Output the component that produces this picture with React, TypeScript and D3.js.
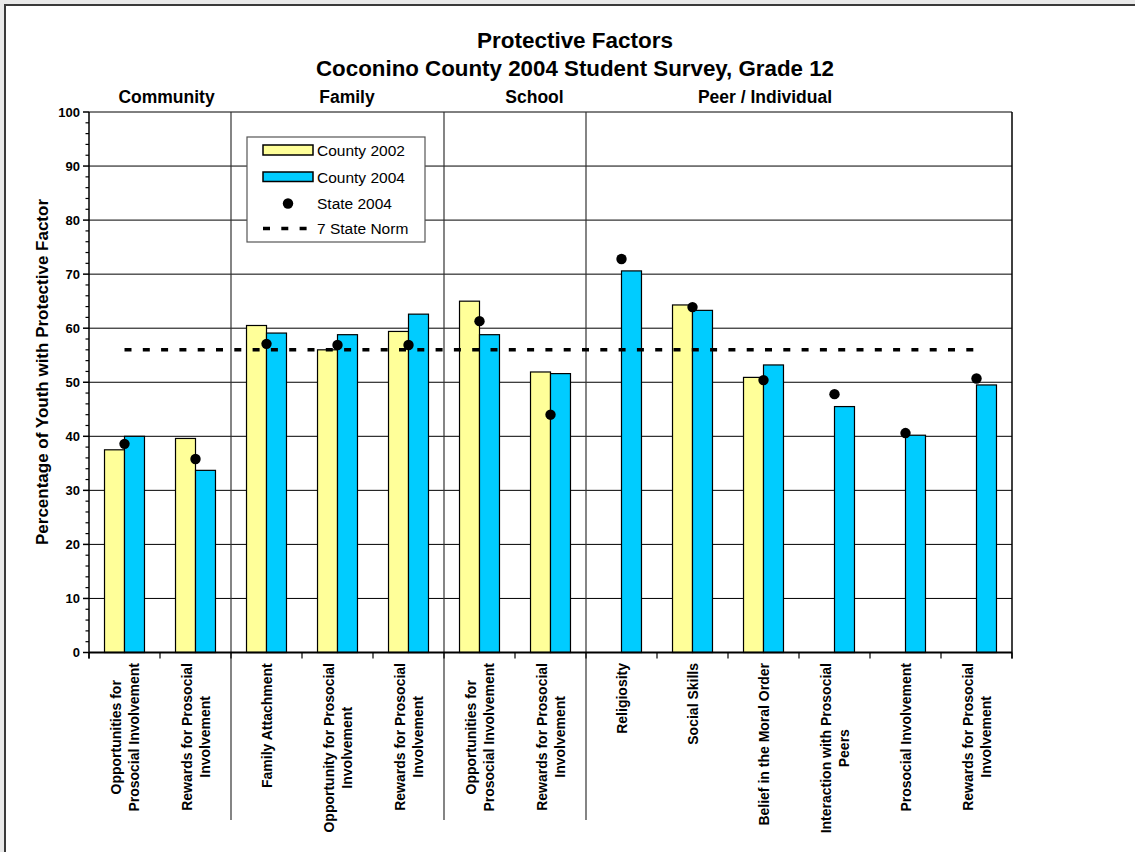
import React from "react";
import * as d3 from "d3";

const categories: string[][] = [
  ["Opportunities for", "Prosocial Involvement"],
  ["Rewards for Prosocial", "Involvement"],
  ["Family Attachment"],
  ["Opportunity for Prosocial", "Involvement"],
  ["Rewards for Prosocial", "Involvement"],
  ["Opportunities for", "Prosocial Involvement"],
  ["Rewards for Prosocial", "Involvement"],
  ["Religiosity"],
  ["Social Skills"],
  ["Belief in the Moral Order"],
  ["Interaction with Prosocial", "Peers"],
  ["Prosocial Involvement"],
  ["Rewards for Prosocial", "Involvement"],
];

const county2002: (number | null)[] = [37.5, 39.6, 60.5, 56.0, 59.4, 65.0, 51.9, null, 64.3, 50.9, null, null, null];
const county2004: number[] = [40.0, 33.7, 59.1, 58.8, 62.6, 58.8, 51.6, 70.6, 63.3, 53.2, 45.5, 40.2, 49.5];
const state2004: number[] = [38.6, 35.8, 57.1, 56.9, 56.9, 61.3, 44.0, 72.8, 63.9, 50.4, 47.8, 40.6, 50.7];
const stateNorm = 56;

const groupNames: string[] = ["Community", "Family", "School", "Peer / Individual"];
const groupSizes: number[] = [2, 3, 2, 6];

const yTicks: number[] = [0, 10, 20, 30, 40, 50, 60, 70, 80, 90, 100];

const titleLines = ["Protective Factors", "Coconino County 2004 Student Survey, Grade 12"];
const yTitle = "Percentage of Youth with Protective Factor";
const legendLabels = ["County 2002", "County 2004", "State 2004", "7 State Norm"];

const FONT = "Arial, 'Liberation Sans', Helvetica, sans-serif";
const YELLOW = "#FFFF99";
const BLUE = "#00CCFF";

export default function App() {
  const W = 1135, H = 852;
  const left = 89, right = 1012, top = 112, bottom = 652.5;

  const x = d3
    .scaleBand<number>()
    .domain(categories.map((_, i) => i))
    .range([left, right])
    .paddingInner(0.437)
    .paddingOuter(0.2185);
  const step = x.step();
  const sub = d3.scaleBand<string>().domain(["2002", "2004"]).range([0, x.bandwidth()]);
  const y = d3.scaleLinear().domain([0, 100]).range([bottom, top]);
  const minorTicks = d3.range(0, 101, 2).filter((v) => v % 10 !== 0);

  const ctx = typeof document !== "undefined" ? document.createElement("canvas").getContext("2d") : null;
  const measure = (t: string, font: string) => {
    if (!ctx) return t.length * 7;
    ctx.font = font;
    return ctx.measureText(t).width;
  };
  const labelFont = `bold 14px ${FONT}`;

  const boundaries: number[] = [];
  let acc = 0;
  groupSizes.forEach((s, i) => {
    acc += s;
    if (i < groupSizes.length - 1) boundaries.push(left + acc * step);
  });
  const headerX = [166.5, 347, 534.5, 765];

  const center = (i: number) => (x(i) as number) + x.bandwidth() / 2;
  const normPath = d3.line()([
    [center(0), y(stateNorm)],
    [center(categories.length - 1), y(stateNorm)],
  ]);

  return (
    <div style={{ position: "absolute", left: 0, top: 0 }}>
      <svg width={W} height={H} style={{ display: "block" }} fontFamily={FONT}>
        <rect x={0} y={0} width={W} height={H} fill="#e9e9e9" />
        <rect x={5} y={5} width={W + 20} height={H + 20} fill="#ffffff" stroke="#3a3a3a" strokeWidth={2} />

        <text x={575} y={48} textAnchor="middle" fontWeight="bold" fontSize={22} textLength={196} lengthAdjust="spacingAndGlyphs">
          {titleLines[0]}
        </text>
        <text x={575} y={76} textAnchor="middle" fontWeight="bold" fontSize={22} textLength={518} lengthAdjust="spacingAndGlyphs">
          {titleLines[1]}
        </text>
        {groupNames.map((g, i) => (
          <text key={g} x={headerX[i]} y={103} textAnchor="middle" fontWeight="bold" fontSize={17.5}>
            {g}
          </text>
        ))}

        {yTicks.map((t) => (
          <line key={t} x1={left} x2={right} y1={y(t)} y2={y(t)} stroke="#000" strokeWidth={1} />
        ))}
        <line x1={right} x2={right} y1={top} y2={bottom + 6} stroke="#000" strokeWidth={1.5} />

        {boundaries.map((bx, i) => (
          <line key={i} x1={bx} x2={bx} y1={top} y2={820} stroke="#333" strokeWidth={1.2} />
        ))}

        {categories.map((_, i) => {
          const bx = x(i) as number;
          const v02 = county2002[i];
          const v04 = county2004[i];
          return (
            <g key={i}>
              {v02 != null && (
                <rect
                  x={bx + (sub("2002") as number)}
                  y={y(v02)}
                  width={sub.bandwidth()}
                  height={y(0) - y(v02)}
                  fill={YELLOW}
                  stroke="#000"
                  strokeWidth={1.2}
                />
              )}
              <rect
                x={bx + (sub("2004") as number)}
                y={y(v04)}
                width={sub.bandwidth()}
                height={y(0) - y(v04)}
                fill={BLUE}
                stroke="#000"
                strokeWidth={1.2}
              />
            </g>
          );
        })}

        <path d={normPath || ""} stroke="#000" strokeWidth={3.5} strokeDasharray="7 11.3" fill="none" />

        {state2004.map((v, i) => (
          <circle key={i} cx={center(i)} cy={y(v)} r={5.2} fill="#000" />
        ))}

        <line x1={left} x2={left} y1={top} y2={bottom + 6} stroke="#000" strokeWidth={1.5} />
        <line x1={left} x2={right} y1={bottom} y2={bottom} stroke="#000" strokeWidth={2} />
        {yTicks.map((t) => (
          <g key={t}>
            <line x1={left - 6} x2={left} y1={y(t)} y2={y(t)} stroke="#000" strokeWidth={1.5} />
            <text x={80} y={y(t)} dy="0.35em" textAnchor="end" fontWeight="bold" fontSize={13}>
              {t}
            </text>
          </g>
        ))}
        {minorTicks.map((t) => (
          <line key={t} x1={left - 3.5} x2={left} y1={y(t)} y2={y(t)} stroke="#000" strokeWidth={1.2} />
        ))}
        {d3.range(categories.length + 1).map((i) => (
          <line key={i} x1={left + i * step} x2={left + i * step} y1={bottom} y2={bottom + 6} stroke="#000" strokeWidth={1.2} />
        ))}

        {categories.map((lines, i) => {
          const c = center(i);
          const maxLen = Math.max(...lines.map((l) => measure(l, labelFont)));
          const cy = 663 + maxLen / 2;
          const n = lines.length;
          return (
            <g key={i}>
              {lines.map((l, j) => {
                const lx = c + (j - (n - 1) / 2) * 18 + 5;
                return (
                  <text
                    key={j}
                    transform={`translate(${lx},${cy}) rotate(-90)`}
                    textAnchor="middle"
                    fontWeight="bold"
                    fontSize={14}
                  >
                    {l}
                  </text>
                );
              })}
            </g>
          );
        })}

        <text transform={`translate(48,372) rotate(-90)`} textAnchor="middle" fontWeight="bold" fontSize={17}>
          {yTitle}
        </text>

        <g>
          <rect x={247} y={137} width={178} height={105} fill="#fff" stroke="#555" strokeWidth={1.2} />
          <rect x={263} y={145} width={50} height={10} fill={YELLOW} stroke="#000" strokeWidth={1.5} />
          <rect x={263} y={172} width={50} height={9.5} fill={BLUE} stroke="#000" strokeWidth={1.5} />
          <circle cx={288} cy={203.5} r={5.2} fill="#000" />
          <line x1={263} x2={309} y1={228.5} y2={228.5} stroke="#000" strokeWidth={3.5} strokeDasharray="7 11.3" />
          {legendLabels.map((l, i) => (
            <text key={l} x={317} y={[150.5, 177, 203.5, 228.5][i]} dy="0.36em" fontSize={15.5}>
              {l}
            </text>
          ))}
        </g>
      </svg>
    </div>
  );
}
